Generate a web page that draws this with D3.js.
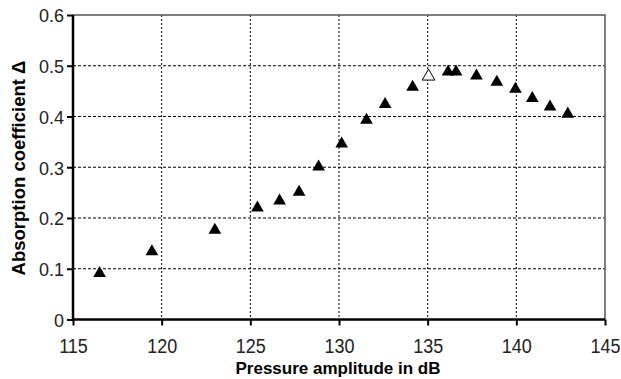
<!DOCTYPE html>
<html><head><meta charset="utf-8">
<script src="https://cdn.jsdelivr.net/npm/d3@7"></script>
<style>body{margin:0;background:#fff;}svg{display:block;}</style>
</head><body>
<svg id="c" width="621" height="379"></svg>
<script>
const pressure = [116.5,119.45,123.0,125.4,126.65,127.75,128.85,130.15,131.55,132.6,134.15,136.15,136.6,137.75,138.9,139.95,140.9,141.9,142.9];
const absorption = [0.091,0.134,0.176,0.220,0.234,0.251,0.301,0.346,0.393,0.424,0.458,0.488,0.488,0.480,0.468,0.454,0.436,0.419,0.405];
const openPressure = [135.05];
const openAbsorption = [0.479];
const xTicks = [115,120,125,130,135,140,145];
const yTicks = [0,0.1,0.2,0.3,0.4,0.5,0.6];

const svg = d3.select("#c");
const L=73, R=605, T=15, B=319.5;
const FONT = "Liberation Sans, Arial, sans-serif";
const x = d3.scaleLinear().domain([115,145]).range([L,R]);
const y = d3.scaleLinear().domain([0,0.6]).range([B,T]);

// grid
svg.append("g").selectAll("line").data(yTicks.filter(d=>d>0&&d<0.6)).join("line")
  .attr("x1",L).attr("x2",R).attr("y1",d=>y(d)).attr("y2",d=>y(d))
  .attr("stroke","#000").attr("stroke-width",1).attr("stroke-dasharray","3,2");
svg.append("g").selectAll("line").data(xTicks.filter(d=>d>115&&d<145)).join("line")
  .attr("x1",d=>x(d)).attr("x2",d=>x(d)).attr("y1",T).attr("y2",B)
  .attr("stroke","#000").attr("stroke-width",1).attr("stroke-dasharray","2,2");

// top/right border
svg.append("path").attr("d",`M${L},${T}H${R}V${B}`).attr("fill","none").attr("stroke","#555").attr("stroke-width",1.5);

// axes
const SY = 1.15;
const xAxis = svg.append("g").attr("transform",`translate(0,${B})`)
  .call(d3.axisBottom(x).tickValues(xTicks).tickSize(6).tickFormat(d3.format("d")));
const yAxis = svg.append("g").attr("transform",`translate(${L},0)`)
  .call(d3.axisLeft(y).tickValues(yTicks).tickSize(6).tickPadding(3).tickFormat(d=>d===0?"0":d3.format(".1f")(d)));
[xAxis,yAxis].forEach(a=>{
  a.select(".domain").attr("stroke","#000").attr("stroke-width",2.5);
  a.selectAll(".tick line").attr("stroke","#000").attr("stroke-width",2);
  a.selectAll("text").attr("font-family",FONT).attr("font-size",18).attr("fill","#222");
});
xAxis.selectAll(".tick text").attr("y",33.5/SY).attr("dy",0).attr("transform",`scale(1,${SY})`);
yAxis.selectAll(".tick text").attr("dy","0.36em").attr("transform",`scale(1,1.05)`)
  .attr("y",function(){return 0;});
xAxis.select(".domain").attr("d",`M${L},0H${R}`);
yAxis.select(".domain").attr("d",`M0,${B}V${T}`);

// markers
const tri = d3.symbol().type(d3.symbolTriangle).size(70);
svg.append("g").selectAll("path").data(pressure.map((p,i)=>[p,absorption[i]])).join("path")
  .attr("d",tri).attr("transform",d=>`translate(${x(d[0])},${y(d[1])})`).attr("fill","#000");
svg.append("g").selectAll("path").data(openPressure.map((p,i)=>[p,openAbsorption[i]])).join("path")
  .attr("d",tri).attr("transform",d=>`translate(${x(d[0])},${y(d[1])})`).attr("fill","#fff").attr("stroke","#000").attr("stroke-width",1);

// labels
svg.append("text").attr("x",338).attr("y",374).attr("text-anchor","middle")
  .attr("font-family",FONT).attr("font-weight","bold").attr("font-size",17)
  .text("Pressure amplitude in dB");
svg.append("text").attr("transform","translate(25,168) rotate(-90)").attr("text-anchor","middle")
  .attr("font-family",FONT).attr("font-weight","bold").attr("font-size",18.5)
  .text("Absorption coefficient Δ");
</script>
</body></html>
